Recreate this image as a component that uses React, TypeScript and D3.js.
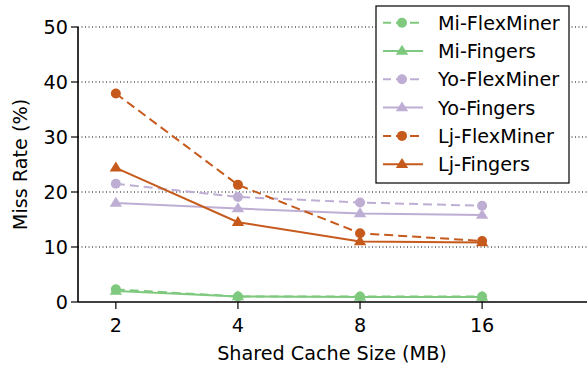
import React from "react";
import * as d3 from "d3";

const cacheSizes = ["2", "4", "8", "16"];
const yTicks = [0, 10, 20, 30, 40, 50];

const miFlexMiner = [2.3, 1.0, 1.0, 1.0];
const miFingers = [2.0, 1.0, 0.9, 0.9];
const yoFlexMiner = [21.5, 19.1, 18.1, 17.5];
const yoFingers = [18.0, 17.0, 16.1, 15.8];
const ljFlexMiner = [37.9, 21.3, 12.5, 11.1];
const ljFingers = [24.4, 14.5, 11.0, 10.8];

const GREEN = "#7fc97f";
const PURPLE = "#beaed4";
const ORANGE = "#c65a1c";

const series = [
  { name: "Mi-FlexMiner", values: miFlexMiner, color: GREEN, dashed: true, marker: "circle" },
  { name: "Mi-Fingers", values: miFingers, color: GREEN, dashed: false, marker: "triangle" },
  { name: "Yo-FlexMiner", values: yoFlexMiner, color: PURPLE, dashed: true, marker: "circle" },
  { name: "Yo-Fingers", values: yoFingers, color: PURPLE, dashed: false, marker: "triangle" },
  { name: "Lj-FlexMiner", values: ljFlexMiner, color: ORANGE, dashed: true, marker: "circle" },
  { name: "Lj-Fingers", values: ljFingers, color: ORANGE, dashed: false, marker: "triangle" },
];

const W = 587;
const H = 366;
const margin = { left: 78, top: 27, bottom: 64 };
const FONT = "DejaVu Sans, sans-serif";
const FS = 19.2;

function Marker({ type, x, y, color }: { type: string; x: number; y: number; color: string }) {
  if (type === "circle") return <circle cx={x} cy={y} r={5} fill={color} />;
  const s = 6.2;
  const pts = `${x},${y - s} ${x - s},${y + s * 0.6} ${x + s},${y + s * 0.6}`;
  return <polygon points={pts} fill={color} />;
}

export default function App() {
  const x = d3.scaleLinear().domain([-0.31, 3.9]).range([margin.left, 592]);
  const y = d3.scaleLinear().domain([0, 50]).range([H - margin.bottom, margin.top]);
  const line = d3
    .line<number>()
    .x((_, i) => x(i))
    .y((d) => y(d));

  const legendX = 376;
  const legendY = 6;
  const rowH = 28.3;

  return (
    <svg
      width={W}
      height={H}
      style={{ position: "absolute", left: 0, top: 0, background: "#fff" }}
      fontFamily={FONT}
    >
      {/* grid */}
      {yTicks.slice(1).map((t) => (
        <line
          key={t}
          x1={margin.left}
          x2={W}
          y1={y(t)}
          y2={y(t)}
          stroke="#000"
          strokeWidth={1}
          strokeDasharray="1,2.5"
        />
      ))}

      {/* series */}
      {series.map((s) => (
        <g key={s.name}>
          <path
            d={line(s.values) || ""}
            fill="none"
            stroke={s.color}
            strokeWidth={2}
            strokeDasharray={s.dashed ? "9,5" : undefined}
          />
          {s.values.map((v, i) => (
            <Marker key={i} type={s.marker} x={x(i)} y={y(v)} color={s.color} />
          ))}
        </g>
      ))}

      {/* axes */}
      <line x1={margin.left} x2={margin.left} y1={y(50)} y2={y(0)} stroke="#000" strokeWidth={1.6} />
      <line x1={margin.left} x2={W} y1={y(0)} y2={y(0)} stroke="#000" strokeWidth={1.6} />
      {yTicks.map((t) => (
        <g key={t}>
          <line x1={margin.left - 7} x2={margin.left} y1={y(t)} y2={y(t)} stroke="#000" strokeWidth={1.2} />
          <text x={margin.left - 10} y={y(t)} dy="0.36em" textAnchor="end" fontSize={FS}>
            {t}
          </text>
        </g>
      ))}
      {cacheSizes.map((c, i) => (
        <g key={c}>
          <line x1={x(i)} x2={x(i)} y1={y(0)} y2={y(0) + 7} stroke="#000" strokeWidth={1.2} />
          <text x={x(i)} y={y(0) + 23} dy="0.36em" textAnchor="middle" fontSize={FS}>
            {c}
          </text>
        </g>
      ))}
      <text x={332} y={353} dy="0.36em" textAnchor="middle" fontSize={FS}>
        Shared Cache Size (MB)
      </text>
      <text
        transform={`translate(20,${(y(0) + y(50)) / 2}) rotate(-90)`}
        dy="0.36em"
        textAnchor="middle"
        fontSize={FS}
      >
        Miss Rate (%)
      </text>

      {/* legend */}
      <rect x={legendX} y={legendY} width={193} height={177} fill="#fff" stroke="#000" strokeWidth={1.2} />
      {series.map((s, i) => {
        const cy = legendY + 16.7 + i * rowH;
        return (
          <g key={s.name}>
            <line
              x1={383}
              x2={423}
              y1={cy}
              y2={cy}
              stroke={s.color}
              strokeWidth={2}
              strokeDasharray={s.dashed ? "9,5" : undefined}
              strokeDashoffset={s.dashed ? 1 : undefined}
            />
            <Marker type={s.marker} x={402} y={cy} color={s.color} />
            <text x={438} y={cy} dy="0.36em" fontSize={FS}>
              {s.name}
            </text>
          </g>
        );
      })}
    </svg>
  );
}
